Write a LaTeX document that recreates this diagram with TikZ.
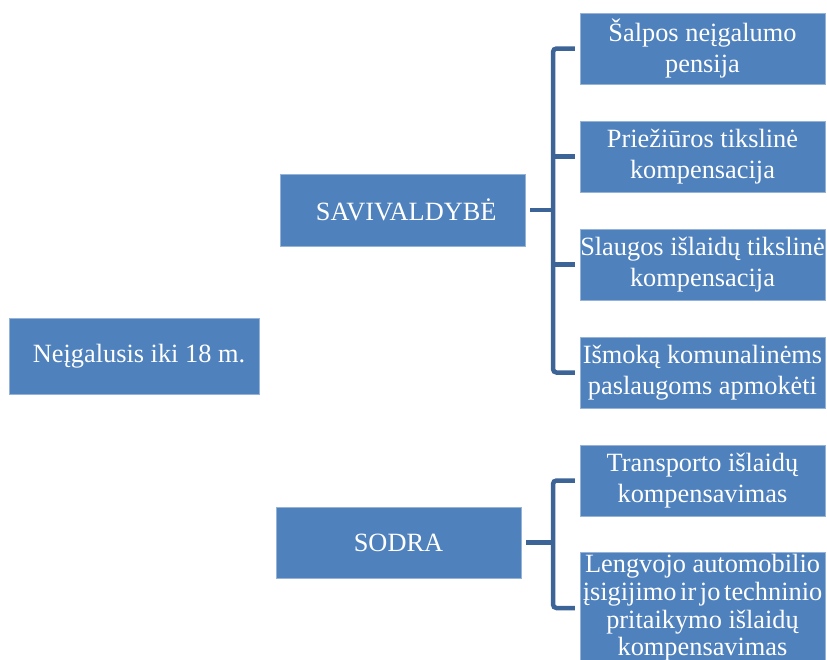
\documentclass[tikz,border=0pt]{standalone}
\usepackage{fontspec}
\setmainfont{Liberation Serif}
\usepackage{tikz}
\usetikzlibrary{positioning}
\definecolor{boxblue}{RGB}{79,129,189}
\definecolor{linkblue}{RGB}{60,100,150}

\begin{document}
\begin{tikzpicture}[x=0.02cm,y=-0.02cm,
		box/.style={fill=boxblue,draw=boxblue!60!white,line width=0.3pt,text=white,
			font=\fontsize{15}{17.6}\selectfont,align=center,
			minimum width=4.9cm,minimum height=1.42cm,inner xsep=0pt,inner ysep=1pt},
		link/.style={draw=linkblue,line width=0.09cm,rounded corners=2pt}]
	\useasboundingbox (0,0) rectangle (827,659);
	\clip (0,0) rectangle (827,659);
	\node[box,minimum width=5cm,minimum height=1.52cm] (root) at (134,356) {\hspace{0.2cm}Neįgalusis iki 18 m.};
	\node[box,minimum height=1.44cm] (sav) at (402.5,210) {\hspace{0.15cm}SAVIVALDYBĖ};
	\node[box] (sodra) at (398.5,542.5) {SODRA};
	\node[box] (s1) at (702.5,48.5) {Šalpos neįgalumo\\pensija};
	\node[box,below=0.73cm of s1] (s2) {Priežiūros tikslinė\\kompensacija};
	\node[box,below=0.73cm of s2] (s3) {Slaugos išlaidų tikslinė\\kompensacija};
	\node[box,below=0.73cm of s3] (s4) {Išmoką komunalinėms\\paslaugoms apmokėti};
	\node[box] (d1) at (702.5,480.5) {Transporto išlaidų\\kompensavimas};
	\node[box,minimum height=2.24cm,inner ysep=0pt,font=\fontsize{15}{15.8}\selectfont] (d2) at (702.5,608)
		{Lengvojo automobilio\\{\spaceskip=0.14em plus 0.05em\relax įsigijimo ir jo techninio}\\pritaikymo išlaidų\\kompensavimas};
	\coordinate (savspine) at (553,210);
	\coordinate (sodraspine) at (553,543);
	\draw[link] ([xshift=0.1cm]sav.east) -- (savspine |- sav.east);
	\draw[link] ([xshift=-0.1cm]s1.west) -| (savspine |- s4.west) -- ([xshift=-0.1cm]s4.west);
	\foreach \n in {s2,s3}
		\draw[link] (savspine |- \n.west) -- ([xshift=-0.1cm]\n.west);
	\draw[link] ([xshift=0.1cm]sodra.east) -- (sodraspine |- sodra.east);
	\draw[link] ([xshift=-0.1cm]d1.west) -| (sodraspine |- d2.west) -- ([xshift=-0.1cm]d2.west);
\end{tikzpicture}
\end{document}
